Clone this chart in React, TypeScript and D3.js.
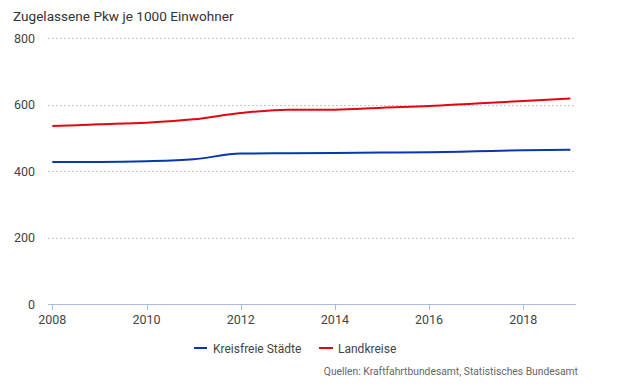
import React from 'react';
import * as d3 from 'd3';

const years = [2008, 2009, 2010, 2011, 2012, 2013, 2014, 2015, 2016, 2017, 2018, 2019];
const kreisfreieStaedte = [428, 428, 430, 436, 453, 454, 455, 456, 457, 460, 463, 465];
const landkreise = [536, 541, 546, 556, 575, 585, 585, 591, 596, 604, 611, 619];
const yTicks = [0, 200, 400, 600, 800];
const xTicks = [2008, 2010, 2012, 2014, 2016, 2018];

const seriesNames = ['Kreisfreie Städte', 'Landkreise'];
const seriesColors = ['#0a36b0', '#e30613'];

const FONT = "Roboto, 'Liberation Sans', sans-serif";

export default function App() {
  const width = 640;
  const height = 389;

  const x = d3.scaleLinear().domain([2008, 2019]).range([52.3, 570.4]);
  const y = d3.scaleLinear().domain([0, 800]).range([304.3, 38.2]);
  const gridLeft = 48;
  const gridRight = 576;

  const makeLine = d3
    .line<number>()
    .x((d, i) => x(years[i]))
    .y(d => y(d))
    .curve(d3.curveMonotoneX);

  const series = [kreisfreieStaedte, landkreise];

  return (
    <svg
      width={width}
      height={height}
      viewBox={`0 0 ${width} ${height}`}
      style={{ position: 'absolute', left: 0, top: 0, background: '#fff' }}
      fontFamily={FONT}
    >
      <text x={13} y={21} fontSize={13.6} fill="#333">
        Zugelassene Pkw je 1000 Einwohner
      </text>

      {yTicks.map(t => (
        <g key={t}>
          {t > 0 && (
            <line
              x1={gridLeft}
              x2={gridRight}
              y1={Math.round(y(t)) + 0.5}
              y2={Math.round(y(t)) + 0.5}
              stroke="#c8c8c8"
              strokeDasharray="2,2"
            />
          )}
          <text x={35} y={y(t) + 4.5} fontSize={12.5} fill="#444" textAnchor="end">
            {t}
          </text>
        </g>
      ))}

      <line x1={gridLeft} x2={gridRight} y1={304.5} y2={304.5} stroke="#a9bbe0" />
      {xTicks.map(t => (
        <g key={t}>
          <line x1={Math.round(x(t)) + 0.5} x2={Math.round(x(t)) + 0.5} y1={304.5} y2={310} stroke="#a9bbe0" />
          <text x={x(t)} y={324} fontSize={12.5} fill="#444" textAnchor="middle">
            {t}
          </text>
        </g>
      ))}

      {series.map((s, i) => (
        <path key={i} d={makeLine(s) || ''} fill="none" stroke={seriesColors[i]} strokeWidth={2} />
      ))}

      <g>
        <line x1={194} x2={207} y1={348} y2={348} stroke={seriesColors[0]} strokeWidth={2} />
        <text x={213} y={352.5} fontSize={12} fill="#444">
          {seriesNames[0]}
        </text>
        <line x1={319} x2={333} y1={348} y2={348} stroke={seriesColors[1]} strokeWidth={2} />
        <text x={338} y={352.5} fontSize={12} fill="#444">
          {seriesNames[1]}
        </text>
      </g>

      <text x={578} y={375} fontSize={10.3} fill="#666" textAnchor="end">
        Quellen: Kraftfahrtbundesamt, Statistisches Bundesamt
      </text>
    </svg>
  );
}
